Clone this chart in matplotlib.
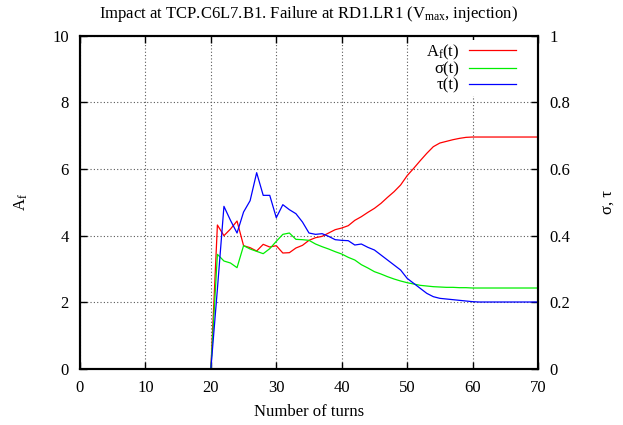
import numpy as np
import matplotlib
matplotlib.use("Agg")
import matplotlib.pyplot as plt

# Daten
turns = list(range(20, 71))

a_f = [0.0, 4.32, 4.00, 4.20, 4.44, 3.70, 3.64, 3.54, 3.74, 3.66,
       3.70, 3.48, 3.49, 3.63, 3.71, 3.86, 3.94, 3.98, 4.08, 4.18,
       4.23, 4.30, 4.46, 4.57, 4.70, 4.82, 4.97, 5.15, 5.32, 5.52,
       5.80, 6.02, 6.25, 6.47, 6.67, 6.78, 6.83, 6.88, 6.92, 6.95,
       6.96, 6.96, 6.96, 6.96, 6.96, 6.96, 6.96, 6.96, 6.96, 6.96, 6.96]

sigma = [0.0, 0.344, 0.324, 0.318, 0.304, 0.370, 0.360, 0.353, 0.346, 0.361,
         0.383, 0.404, 0.408, 0.389, 0.388, 0.386, 0.375, 0.367, 0.360, 0.352,
         0.345, 0.335, 0.327, 0.313, 0.303, 0.292, 0.285, 0.277, 0.270, 0.264,
         0.259, 0.255, 0.251, 0.249, 0.247, 0.246, 0.245, 0.245, 0.244, 0.244,
         0.243, 0.243, 0.243, 0.243, 0.243, 0.243, 0.243, 0.243, 0.243, 0.243, 0.243]

tau = [0.0, 0.240, 0.488, 0.446, 0.408, 0.471, 0.505, 0.589, 0.521, 0.521,
       0.454, 0.493, 0.478, 0.466, 0.441, 0.408, 0.404, 0.406, 0.398, 0.388,
       0.386, 0.385, 0.372, 0.375, 0.365, 0.357, 0.342, 0.327, 0.312, 0.297,
       0.272, 0.257, 0.242, 0.227, 0.217, 0.212, 0.210, 0.208, 0.206, 0.204,
       0.202, 0.201, 0.201, 0.201, 0.201, 0.201, 0.201, 0.201, 0.201, 0.201, 0.201]

plt.rcParams['font.family'] = ['Liberation Serif', 'DejaVu Serif']
plt.rcParams['font.size'] = 12
plt.rcParams['mathtext.fontset'] = 'custom'
plt.rcParams['mathtext.rm'] = 'Liberation Serif'
plt.rcParams['mathtext.it'] = 'Liberation Serif'

fig = plt.figure(figsize=(6.23, 4.25), dpi=100)
ax = fig.add_axes([80 / 623, 56 / 425, 458 / 623, 333.3 / 425])
ax2 = ax.twinx()

l1, = ax.plot(turns, a_f, color='#ff0000', lw=0.9, label=r'A$_\mathrm{f}$(t)')
l2, = ax2.plot(turns, sigma, color='#00ee00', lw=0.9, label='σ(t)')
l3, = ax2.plot(turns, tau, color='#0000ff', lw=0.9, label='τ(t)')

ax.set_xlim(0, 70)
ax.set_ylim(0, 10)
ax2.set_ylim(0, 1)
ax.set_xticks(np.arange(0, 71, 10))
ax.set_yticks(np.arange(0, 11, 2))
ax2.set_yticks([0, 0.2, 0.4, 0.6, 0.8, 1])
ax2.set_yticklabels(['0', '0.2', '0.4', '0.6', '0.8', '1'])

ax.grid(True, linestyle=(0, (1, 2)), color='0.35', lw=0.8)
ax.tick_params(axis='x', direction='in', top=True, length=5, width=1, pad=8)
ax.tick_params(axis='y', direction='in', length=5, width=1, pad=8)
ax2.tick_params(axis='y', direction='in', length=5, width=1, pad=8)
for a in (ax, ax2):
    for s in a.spines.values():
        s.set_linewidth(1.5)

ax.set_title(r'Impact at TCP.C6L7.B1. Failure at RD1.LR1 (V$_\mathrm{max}$, injection)',
             fontsize=12, pad=13)
ax.set_xlabel('Number of turns', labelpad=6)
ax.set_ylabel(r'A$_\mathrm{f}$', labelpad=16)
ax2.set_ylabel('σ, τ', labelpad=22)

leg = ax2.legend([l1, l2, l3], [l1.get_label(), l2.get_label(), l3.get_label()],
                 loc='upper right', bbox_to_anchor=(0.975, 1.012), markerfirst=False,
                 handlelength=2.8, handletextpad=0.6, labelspacing=0.0,
                 borderpad=0.15, frameon=True, fancybox=False, framealpha=1)
leg.get_frame().set_edgecolor('none')
for t in leg.get_texts():
    t.set_ha('right')

plt.savefig("out.png", format="png", dpi=100)
